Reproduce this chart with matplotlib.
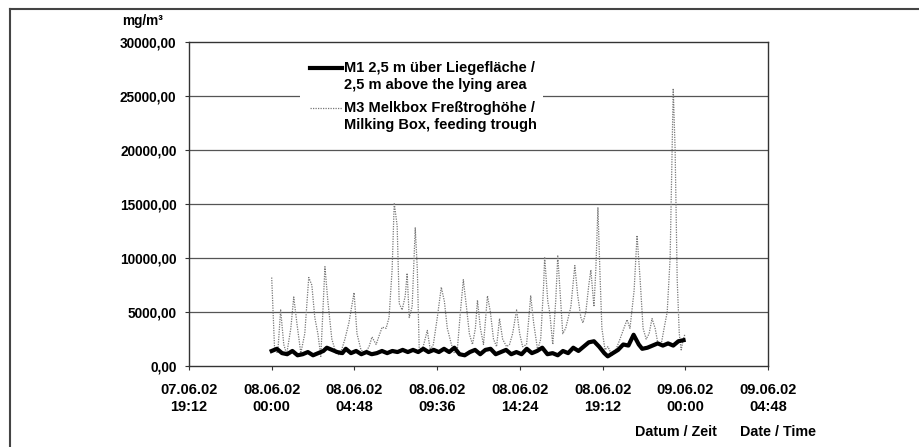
import matplotlib
matplotlib.use('Agg')
import matplotlib.pyplot as plt
from matplotlib.lines import Line2D
from matplotlib.patches import Rectangle

plt.rcParams['font.family'] = ['Liberation Sans', 'DejaVu Sans']
plt.rcParams['font.weight'] = 'bold'

# Stunden ab 08.06.02 00:00
m3_h = [0.0, 0.17, 0.35, 0.52, 0.70, 0.87, 1.11, 1.28, 1.46, 1.69, 1.92, 2.15, 2.33,
        2.50, 2.68, 2.85, 3.09, 3.26, 3.49, 3.73, 3.96, 4.25, 4.48, 4.78, 4.95, 5.18,
        5.42, 5.65, 5.82, 6.06, 6.23, 6.41, 6.64, 6.81, 6.99, 7.11, 7.28, 7.40, 7.57,
        7.75, 7.86, 7.98, 8.15, 8.33, 8.45, 8.56, 8.79, 9.03, 9.20, 9.38, 9.61, 9.84,
        10.02, 10.19, 10.43, 10.60, 10.77, 10.95, 11.12, 11.30, 11.47, 11.65, 11.82,
        11.94, 12.11, 12.29, 12.52, 12.69, 12.87, 13.05, 13.22, 13.40, 13.63, 13.80,
        13.98, 14.21, 14.39, 14.56, 14.79, 15.03, 15.20, 15.43, 15.61, 15.78, 15.84,
        16.02, 16.13, 16.31, 16.48, 16.60, 16.77, 16.89, 17.06, 17.18, 17.36, 17.59,
        17.76, 17.94, 18.06, 18.23, 18.40, 18.52, 18.70, 18.81, 18.93, 19.04, 19.16,
        19.34, 19.51, 19.74, 19.97, 20.21, 20.44, 20.62, 20.79, 21.03, 21.20, 21.38,
        21.55, 21.73, 21.90, 22.07, 22.25, 22.42, 22.60, 22.77, 22.95, 23.12, 23.30,
        23.41, 23.53, 23.65, 23.76, 23.88, 23.99]
m3 = [8200, 1500, 1200, 5200, 2000, 1100, 3500, 6400, 4000, 1200, 3000, 8200, 7500,
      4500, 3000, 900, 9200, 6000, 2500, 1200, 1000, 2500, 4000, 6800, 3000, 1500,
      1200, 1800, 2700, 2000, 2800, 3600, 3500, 4500, 9000, 15100, 13000, 5800, 5200,
      6500, 8600, 4500, 5500, 12800, 9000, 1500, 1800, 3300, 1500, 2000, 4500, 7300,
      6000, 3500, 2000, 1200, 1500, 5000, 8000, 5500, 3000, 2000, 3500,
      6100, 3500, 2000, 6500, 5000, 2500, 1800, 4400, 2500, 1800, 2000,
      3000, 5200, 3000, 1800, 2000, 6500, 4000, 1500, 2500, 7500, 10100,
      6000, 5000, 2000, 6000, 10200, 6000, 3000, 3500, 4300, 5500, 9300,
      6500, 4500, 4000, 5000, 7500, 8900, 5500, 9000, 14700, 9000, 3500,
      1500, 1800, 1000, 1500, 2500, 3500, 4300, 3500, 7000, 12100, 8000,
      3500, 2500, 3000, 4400, 3500, 2000, 2000, 3500, 5000, 10000, 25700,
      20000, 8000, 3000, 1500, 2500, 3000]

m1_h = [0.0, 0.3, 0.6, 0.9, 1.2, 1.5, 1.8, 2.1, 2.4, 2.7, 3.0, 3.2, 3.5, 3.8, 4.1,
        4.3, 4.6, 4.9, 5.2, 5.5, 5.8, 6.1, 6.4, 6.7, 7.0, 7.3, 7.6, 7.9, 8.2, 8.5,
        8.8, 9.1, 9.4, 9.7, 10.0, 10.3, 10.6, 10.9, 11.2, 11.5, 11.8, 12.1, 12.4,
        12.7, 13.0, 13.3, 13.6, 13.9, 14.2, 14.5, 14.8, 15.1, 15.4, 15.7, 16.0,
        16.3, 16.6, 16.9, 17.2, 17.5, 17.8, 18.1, 18.4, 18.7, 19.0, 19.3, 19.5,
        19.8, 20.1, 20.4, 20.7, 21.0, 21.3, 21.5, 21.8, 22.1, 22.4, 22.7, 23.0,
        23.3, 23.6, 23.9]
m1 = [1400, 1600, 1200, 1100, 1400, 1000, 1100, 1300, 1000, 1200, 1400, 1700, 1500,
      1300, 1200, 1600, 1200, 1400, 1100, 1300, 1100, 1200, 1400, 1200, 1400, 1300,
      1500, 1300, 1500, 1300, 1600, 1300, 1500, 1300, 1600, 1300, 1700, 1100, 1000,
      1300, 1500, 1100, 1500, 1600, 1100, 1300, 1500, 1100, 1300, 1100, 1600, 1200,
      1400, 1700, 1100, 1200, 1000, 1400, 1200, 1700, 1400, 1800, 2200, 2300, 1800,
      1200, 900, 1200, 1500, 2000, 1900, 2900, 2000, 1600, 1700, 1900, 2100, 1900,
      2100, 1900, 2300, 2400]

x_ticks = [-4.8, 0.0, 4.8, 9.6, 14.4, 19.2, 24.0, 28.8]
x_labels = ['07.06.02\n19:12', '08.06.02\n00:00', '08.06.02\n04:48', '08.06.02\n09:36',
            '08.06.02\n14:24', '08.06.02\n19:12', '09.06.02\n00:00', '09.06.02\n04:48']
y_ticks = [0, 5000, 10000, 15000, 20000, 25000, 30000]
y_labels = ['0,00', '5000,00', '10000,00', '15000,00', '20000,00', '25000,00', '30000,00']

lab1 = ['M1 2,5 m über Liegefläche /', '2,5 m above the lying area']
lab3 = ['M3 Melkbox Freßtroghöhe /', 'Milking Box, feeding trough']

M1_STYLE = dict(color='black', lw=3.0)
M3_STYLE = dict(color='#777777', lw=0.9, ls=(0, (1, 1)))

fig = plt.figure(figsize=(9.2, 4.47), dpi=100)
ax = fig.add_axes([0.2054, 0.181, 0.6294, 0.725])

for y in y_ticks[1:-1]:
    ax.axhline(y, color='#555555', lw=0.9, zorder=1)

ax.plot(m3_h, m3, zorder=2, **M3_STYLE)
ax.plot(m1_h, m1, zorder=3, **M1_STYLE)

ax.set_xlim(-4.8, 28.8)
ax.set_ylim(0, 30000)
ax.set_xticks(x_ticks)
ax.set_xticklabels(x_labels, fontsize=10.5, fontweight='bold', linespacing=1.3)
ax.set_yticks(y_ticks)
ax.set_yticklabels(y_labels, fontsize=9.8, fontweight='bold')
ax.tick_params(axis='both', direction='out', length=3, width=0.8, color='#333333')
ax.tick_params(axis='x', pad=9)
ax.tick_params(axis='y', pad=6)
for s in ax.spines.values():
    s.set_color('#333333')
    s.set_linewidth(1.0)

# Legende (Strich auf Höhe der ersten Zeile)
tr = ax.transAxes
ax.add_patch(Rectangle((0.192, 0.71), 0.42, 0.25, transform=tr, facecolor='white',
                       edgecolor='none', zorder=4))
ax.plot([0.209, 0.264], [0.920, 0.920], transform=tr, zorder=5, **M1_STYLE)
ax.plot([0.209, 0.264], [0.796, 0.796], transform=tr, zorder=5, **M3_STYLE)
for yy, txt in zip([0.920, 0.867, 0.796, 0.744], lab1 + lab3):
    ax.text(0.268, yy, txt, transform=tr, fontsize=10.5, fontweight='bold',
            va='center', ha='left', zorder=5)

fig.text(0.133, 0.945, 'mg/m³', fontsize=9.8, fontweight='bold')
fig.text(0.69, 0.025, 'Datum / Zeit', fontsize=10.3, fontweight='bold')
fig.text(0.804, 0.025, 'Date / Time', fontsize=10.3, fontweight='bold')

# Rahmen
fig.add_artist(Line2D([0.011, 0.011], [0.0, 0.98], color='#444444', lw=1.5,
                      transform=fig.transFigure))
fig.add_artist(Line2D([0.011, 1.0], [0.98, 0.98], color='#444444', lw=1.5,
                      transform=fig.transFigure))

fig.savefig('out.png', dpi=100)
